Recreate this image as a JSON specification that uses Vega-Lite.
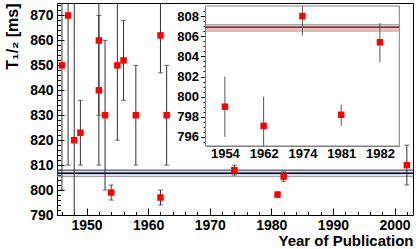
{
  "$schema": "https://vega.github.io/schema/vega-lite/v6.json",
  "width": 356,
  "height": 212,
  "autosize": "none",
  "padding": {"left": 57, "top": 3, "right": 3, "bottom": 34},
  "background": "white",
  "config": {
    "view": {"stroke": "#000", "strokeWidth": 1},
    "axis": {"labelFont": "Liberation Sans", "labelFontWeight": "bold", "labelColor": "#000", "titleFont": "Liberation Sans", "titleFontWeight": "bold", "titleColor": "#000", "tickColor": "#000", "domainColor": "#000", "grid": false}
  },
  "datasets": {
    "main": [
      {"year": 1946, "t": 850, "lo": 800, "hi": 900},
      {"year": 1947, "t": 870, "lo": 810, "hi": 930},
      {"year": 1948, "t": 820, "lo": 760, "hi": 880},
      {"year": 1949, "t": 823, "lo": 810, "hi": 836},
      {"year": 1952, "t": 860, "lo": 830, "hi": 890},
      {"year": 1952, "t": 840, "lo": 810, "hi": 870},
      {"year": 1953, "t": 830, "lo": 800, "hi": 860},
      {"year": 1954, "t": 799, "lo": 796, "hi": 802},
      {"year": 1955, "t": 850, "lo": 820, "hi": 880},
      {"year": 1956, "t": 852, "lo": 836, "hi": 868},
      {"year": 1958, "t": 830, "lo": 810, "hi": 850},
      {"year": 1962, "t": 862, "lo": 847, "hi": 877},
      {"year": 1962, "t": 797, "lo": 794, "hi": 800},
      {"year": 1963, "t": 830, "lo": 810, "hi": 850},
      {"year": 1974, "t": 808, "lo": 806, "hi": 810},
      {"year": 1981, "t": 798.2, "lo": 797.2, "hi": 799.2},
      {"year": 1982, "t": 805.4, "lo": 803.5, "hi": 807.3},
      {"year": 2002, "t": 810, "lo": 802, "hi": 818}
    ],
    "inset": [
      {"i": 0, "year": "1954", "t": 799, "lo": 796, "hi": 802},
      {"i": 1, "year": "1962", "t": 797.1, "lo": 794.1, "hi": 800},
      {"i": 2, "year": "1974", "t": 808, "lo": 806.1, "hi": 810},
      {"i": 3, "year": "1981", "t": 798.2, "lo": 797.1, "hi": 799.2},
      {"i": 4, "year": "1982", "t": 805.4, "lo": 803.4, "hi": 807.3}
    ],
    "avg": [{"mid": 806.7, "lo": 805.4, "hi": 808.0}],
    "iavg": [{"mid": 806.9, "lo": 806.5, "hi": 807.15}]
  },
  "layer": [
    {
      "layer": [
        {
          "data": {"name": "avg"},
          "mark": {"type": "rect", "fill": "#8f99ec", "opacity": 0.35},
          "encoding": {
            "y": {"field": "lo", "type": "quantitative", "scale": {"domain": [790, 875], "nice": false, "zero": false}, "axis": null},
            "y2": {"field": "hi"}
          }
        },
        {
          "data": {"name": "avg"},
          "mark": {"type": "rule", "color": "#333", "strokeWidth": 1},
          "encoding": {"y": {"field": "hi", "type": "quantitative", "axis": null}}
        },
        {
          "data": {"name": "avg"},
          "mark": {"type": "rule", "color": "#000", "strokeWidth": 1.5},
          "encoding": {"y": {"field": "mid", "type": "quantitative", "axis": null}}
        },
        {
          "data": {"name": "avg"},
          "mark": {"type": "rule", "color": "#999", "strokeWidth": 1},
          "encoding": {"y": {"field": "lo", "type": "quantitative", "axis": null}}
        },
        {
          "data": {"name": "main"},
          "mark": {"type": "rule", "color": "#333", "strokeWidth": 1, "clip": true},
          "encoding": {
            "x": {"field": "year", "type": "quantitative", "scale": {"domain": [1945.2, 2003], "nice": false, "zero": false},
              "axis": {"orient": "bottom", "values": [1946,1948,1950,1952,1954,1956,1958,1960,1962,1964,1966,1968,1970,1972,1974,1976,1978,1980,1982,1984,1986,1988,1990,1992,1994,1996,1998,2000,2002], "tickSize": -3.5, "labels": false, "domain": false, "title": null}},
            "y": {"field": "lo", "type": "quantitative",
              "axis": {"orient": "left", "values": [790,792,794,796,798,800,802,804,806,808,810,812,814,816,818,820,822,824,826,828,830,832,834,836,838,840,842,844,846,848,850,852,854,856,858,860,862,864,866,868,870,872,874], "tickSize": -3.5, "labels": false, "domain": false, "title": null}},
            "y2": {"field": "hi"}
          }
        },
        {
          "data": {"name": "main"},
          "mark": {"type": "tick", "orient": "horizontal", "size": 5, "thickness": 1, "color": "#333", "clip": true},
          "encoding": {
            "x": {"field": "year", "type": "quantitative", "axis": null},
            "y": {"field": "lo", "type": "quantitative", "axis": null}
          }
        },
        {
          "data": {"name": "main"},
          "mark": {"type": "tick", "orient": "horizontal", "size": 5, "thickness": 1, "color": "#333", "clip": true},
          "encoding": {
            "x": {"field": "year", "type": "quantitative", "axis": null},
            "y": {"field": "hi", "type": "quantitative", "axis": null}
          }
        },
        {
          "data": {"name": "main"},
          "mark": {"type": "point", "shape": "square", "filled": true, "color": "#ff0000", "opacity": 1, "size": 42, "clip": true},
          "encoding": {
            "x": {"field": "year", "type": "quantitative",
              "axis": {"orient": "bottom", "values": [1950, 1960, 1970, 1980, 1990, 2000], "format": "d", "tickSize": -7, "labelPadding": 10, "labelFontSize": 14, "domain": false,
                "title": "Year of Publication", "titleFontSize": 15, "titleAlign": "right", "titleBaseline": "alphabetic", "titleX": 356, "titleY": 30}},
            "y": {"field": "t", "type": "quantitative",
              "axis": {"orient": "left", "values": [790, 800, 810, 820, 830, 840, 850, 860, 870], "tickSize": -7, "labelPadding": 11, "labelFontSize": 14, "domain": false,
                "title": "T₁/₂ [ms]", "titleFontSize": 16, "titleAngle": -90, "titleAlign": "right", "titleBaseline": "middle", "titleX": -45, "titleY": 0}}
          }
        }
      ],
      "resolve": {"axis": {"x": "independent", "y": "independent"}}
    },
    {
      "layer": [
        {
          "data": {"name": "iavg"},
          "mark": {"type": "rect", "fill": "white", "stroke": "#808080", "strokeWidth": 1},
          "encoding": {
            "x": {"datum": -0.5, "type": "quantitative", "scale": {"domain": [-0.5, 4.5], "range": [148.5, 342.3], "nice": false, "zero": false}, "axis": null},
            "x2": {"datum": 4.5},
            "y": {"datum": 795.1, "type": "quantitative", "scale": {"domain": [795.1, 809], "range": [143, 3], "nice": false, "zero": false, "clamp": true}, "axis": null},
            "y2": {"datum": 809}
          }
        },
        {
          "data": {"name": "iavg"},
          "mark": {"type": "rect", "fill": "#e85a5a", "opacity": 0.4},
          "encoding": {
            "x": {"datum": -0.5, "type": "quantitative", "axis": null},
            "x2": {"datum": 4.5},
            "y": {"field": "lo", "type": "quantitative", "axis": null},
            "y2": {"field": "hi"}
          }
        },
        {
          "data": {"name": "iavg"},
          "mark": {"type": "rule", "color": "#555", "strokeWidth": 1, "strokeDash": [1, 1]},
          "encoding": {
            "x": {"datum": -0.5, "type": "quantitative", "axis": null},
            "x2": {"datum": 4.5},
            "y": {"field": "hi", "type": "quantitative", "axis": null}
          }
        },
        {
          "data": {"name": "iavg"},
          "mark": {"type": "rule", "color": "#000", "strokeWidth": 1},
          "encoding": {
            "x": {"datum": -0.5, "type": "quantitative", "axis": null},
            "x2": {"datum": 4.5},
            "y": {"field": "mid", "type": "quantitative", "axis": null}
          }
        },
        {
          "data": {"name": "iavg"},
          "mark": {"type": "rule", "color": "#aaa", "strokeWidth": 1},
          "encoding": {
            "x": {"datum": -0.5, "type": "quantitative", "axis": null},
            "x2": {"datum": 4.5},
            "y": {"field": "lo", "type": "quantitative", "axis": null}
          }
        },
        {
          "data": {"name": "inset"},
          "mark": {"type": "rule", "color": "#555", "strokeWidth": 1},
          "encoding": {
            "x": {"field": "i", "type": "quantitative", "axis": null},
            "y": {"field": "lo", "type": "quantitative",
              "axis": {"orient": "left", "offset": -148.5, "values": [795.5,796,796.5,797,797.5,798,798.5,799,799.5,800,800.5,801,801.5,802,802.5,803,803.5,804,804.5,805,805.5,806,806.5,807,807.5,808,808.5], "tickSize": 2.5, "labels": false, "domain": false, "title": null}},
            "y2": {"field": "hi"}
          }
        },
        {
          "data": {"name": "inset"},
          "mark": {"type": "point", "shape": "square", "filled": true, "color": "#ff0000", "opacity": 1, "size": 42},
          "encoding": {
            "x": {"field": "i", "type": "quantitative",
              "axis": {"orient": "bottom", "offset": -69, "values": [0, 1, 2, 3, 4], "ticks": false, "labelPadding": 1, "labelFontSize": 13, "labelFlush": false, "labelOverlap": false, "domain": true, "domainColor": "#808080", "title": null, "zindex": 1,
                "labelExpr": "datum.value == 0 ? '1954' : datum.value == 1 ? '1962' : datum.value == 2 ? '1974' : datum.value == 3 ? '1981' : '1982'"}},
            "y": {"field": "t", "type": "quantitative",
              "axis": {"orient": "left", "offset": -148.5, "values": [796, 798, 800, 802, 804, 806, 808], "tickSize": 5, "labelPadding": 2, "labelFontSize": 13, "domain": false, "title": null}}
          }
        }
      ],
      "resolve": {"axis": {"x": "independent", "y": "independent"}}
    }
  ],
  "resolve": {"scale": {"x": "independent", "y": "independent"}}
}
